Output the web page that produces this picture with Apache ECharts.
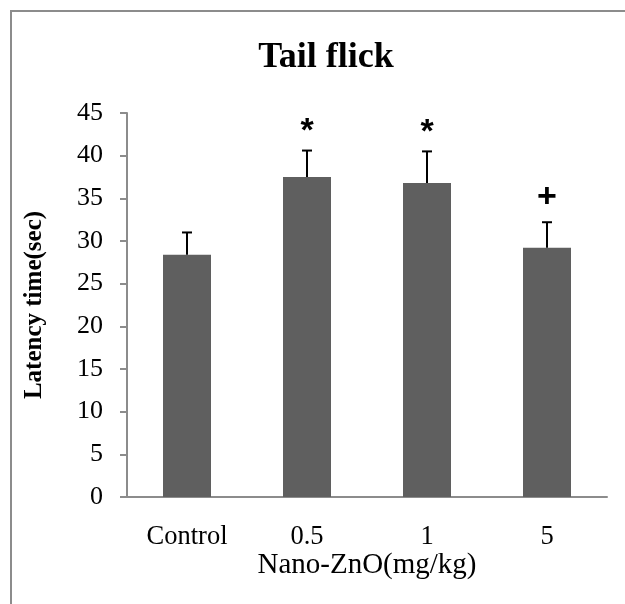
<!DOCTYPE html>
<html>
<head>
<meta charset="utf-8">
<script src="https://cdn.jsdelivr.net/npm/echarts@6/dist/echarts.min.js"></script>
<style>html,body{margin:0;padding:0;background:#fff}#chart{width:625px;height:604px}</style>
</head>
<body>
<div id="chart"></div>
<script>
const categories = ['Control', '0.5', '1', '5'];
const means = [28.4, 37.5, 36.8, 29.2];
const errors = [2.6, 3.1, 3.7, 3.0];
const marks = ['', '*', '*', '+'];
const yTicks = [0, 5, 10, 15, 20, 25, 30, 35, 40, 45];

const serif = '"Liberation Serif", "Times New Roman", serif';
const chart = echarts.init(document.getElementById('chart'));
chart.setOption({
  animation: false,
  backgroundColor: '#fff',
  title: {
    text: 'Tail flick', left: 321, top: 35, textAlign: 'center',
    textStyle: { fontFamily: serif, fontWeight: 'bold', fontSize: 36, color: '#000' }
  },
  graphic: [{
    type: 'rect', shape: { x: 11, y: 11, width: 640, height: 620 },
    style: { fill: 'none', stroke: '#8c8c8c', lineWidth: 2 }, silent: true
  }],
  grid: { left: 127, right: 18, top: 113, bottom: 107 },
  xAxis: {
    type: 'category', data: categories,
    name: 'Nano-ZnO(mg/kg)', nameLocation: 'middle', nameGap: 54, nameMoveOverlap: false,
    nameTextStyle: { fontFamily: serif, fontSize: 29, color: '#000' },
    axisLine: { lineStyle: { color: '#8c8c8c', width: 2 } },
    axisTick: { show: false },
    axisLabel: { fontFamily: serif, fontSize: 26.5, color: '#000', margin: 27 }
  },
  yAxis: {
    type: 'value', min: yTicks[0], max: yTicks[yTicks.length - 1], interval: 5,
    name: 'Latency time(sec)', nameLocation: 'middle', nameGap: 80, nameMoveOverlap: false,
    nameTextStyle: { fontFamily: serif, fontSize: 25, fontWeight: 'bold', color: '#000' },
    axisLine: { show: true, lineStyle: { color: '#8c8c8c', width: 2 } },
    axisTick: { show: true, length: 7, lineStyle: { color: '#8c8c8c', width: 2 } },
    splitLine: { show: false },
    axisLabel: { fontFamily: serif, fontSize: 26, color: '#000', margin: 24 }
  },
  series: [
    {
      type: 'bar', data: means, barWidth: '40%',
      itemStyle: { color: '#5f5f5f' }
    },
    {
      type: 'custom',
      data: means.map((m, i) => [i, m, errors[i]]),
      renderItem: function (params, api) {
        const i = api.value(0);
        const m = api.value(1);
        const e = api.value(2);
        const mk = marks[i];
        const base = api.coord([i, m]);
        const top = api.coord([i, m + e]);
        const children = [
          { type: 'line', shape: { x1: base[0], y1: base[1], x2: top[0], y2: top[1] }, style: { stroke: '#000', lineWidth: 2 } },
          { type: 'line', shape: { x1: top[0] - 5, y1: top[1], x2: top[0] + 5, y2: top[1] }, style: { stroke: '#000', lineWidth: 2 } }
        ];
        if (mk) {
          children.push({
            type: 'text',
            style: {
              text: mk, x: top[0], y: top[1] - (mk === '*' ? 2 : 8),
              textAlign: 'center', textVerticalAlign: 'bottom',
              font: 'bold 34px "Liberation Sans", Arial, sans-serif', fill: '#000'
            }
          });
        }
        return { type: 'group', children: children };
      },
      z: 5
    }
  ]
});
</script>
</body>
</html>
